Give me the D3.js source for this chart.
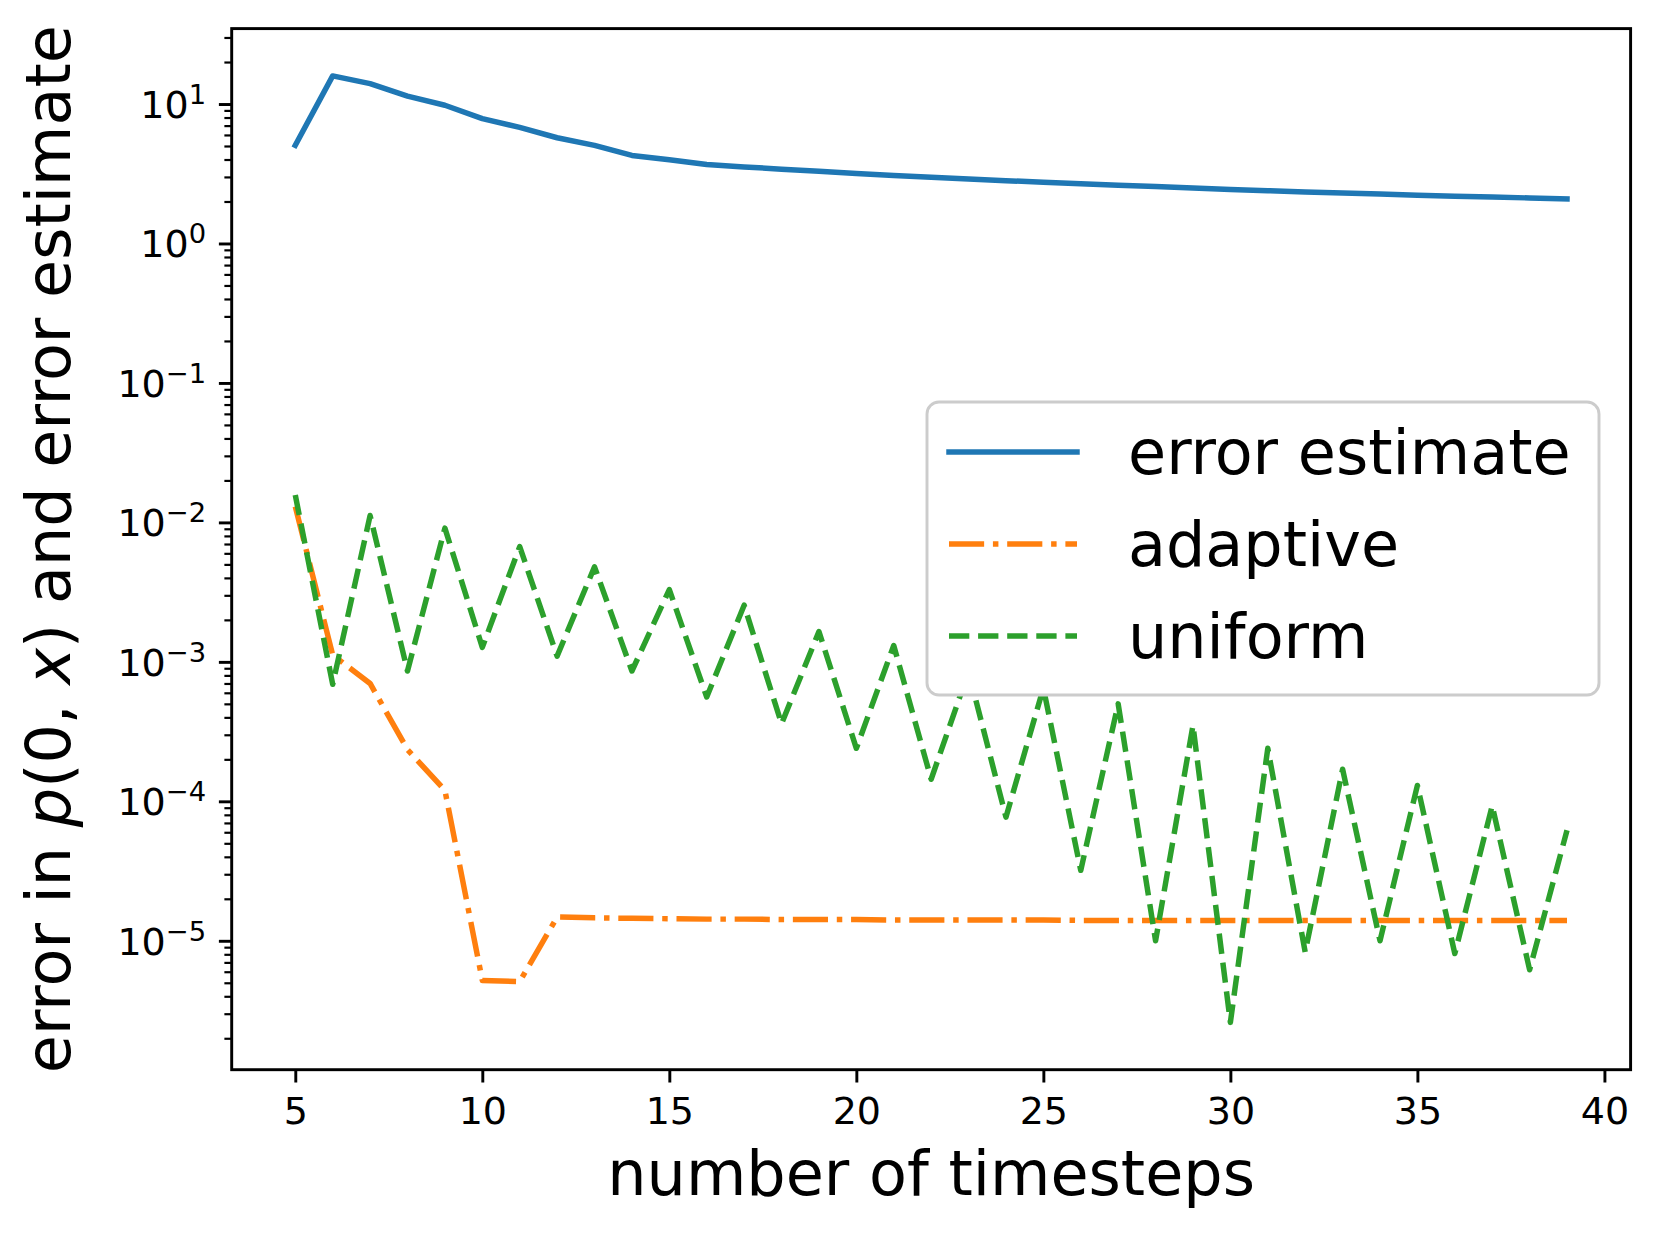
<!DOCTYPE html>
<html>
<head>
<meta charset="utf-8">
<script src="https://cdn.jsdelivr.net/npm/d3@7"></script>
<style>
  html, body { margin: 0; padding: 0; background: #ffffff; }
  svg { display: block; }
  text { font-family: "DejaVu Sans", sans-serif; fill: #000; }
</style>
</head>
<body>
<svg id="chart" width="1659" height="1240"></svg>
<script>
// ---------------- data ----------------
const timesteps = [5,6,7,8,9,10,11,12,13,14,15,16,17,18,19,20,21,22,23,24,25,26,27,28,29,30,31,32,33,34,35,36,37,38,39];

const errorEstimate = [5.05,15.9,14.0,11.4,9.8,7.85,6.8,5.73,5.05,4.28,3.98,3.68,3.54,3.41,3.29,3.18,3.07,2.98,2.90,2.82,2.75,2.68,2.62,2.56,2.50,2.44,2.39,2.34,2.30,2.26,2.22,2.18,2.15,2.12,2.09];

const adaptive = [1.3e-2,1.12e-3,7.0e-4,2.35e-4,1.2e-4,5.2e-6,5.1e-6,1.48e-5,1.46e-5,1.45e-5,1.44e-5,1.43e-5,1.43e-5,1.42e-5,1.42e-5,1.42e-5,1.41e-5,1.41e-5,1.41e-5,1.41e-5,1.41e-5,1.40e-5,1.40e-5,1.40e-5,1.40e-5,1.40e-5,1.40e-5,1.40e-5,1.40e-5,1.40e-5,1.40e-5,1.40e-5,1.40e-5,1.40e-5,1.40e-5];

const uniform = [1.57e-2,6.9e-4,1.12e-2,8.6e-4,9.1e-3,1.27e-3,6.7e-3,1.10e-3,4.8e-3,8.6e-4,3.3e-3,5.6e-4,2.55e-3,3.6e-4,1.65e-3,2.4e-4,1.31e-3,1.44e-4,8.5e-4,7.7e-5,6.5e-4,3.2e-5,5.0e-4,1.0e-5,3.5e-4,2.6e-6,2.4e-4,8.3e-6,1.7e-4,1.0e-5,1.3e-4,8.1e-6,9.3e-5,6.2e-6,6.2e-5];

const seriesNames = ["error estimate", "adaptive", "uniform"];
const xTickValues = [5,10,15,20,25,30,35,40];
const yTickExponents = [-5,-4,-3,-2,-1,0,1];
const xLabel = "number of timesteps";

// ---------------- layout ----------------
const W = 1659, H = 1240;
const plot = { left: 231.7, right: 1630.6, top: 28.6, bottom: 1069.7 };
const pt = 3.66;                       // px per point
const lw = 1.5 * pt;                   // data line width
const colors = ["#1f77b4", "#ff7f0e", "#2ca02c"];
const dashes = [null,
  [6.4*lw, 1.6*lw, 1*lw, 1.6*lw].join(","),
  [3.7*lw, 1.6*lw].join(",")];
const tickFont = 38, labelFont = 62;

const svg = d3.select("#chart");
svg.append("rect").attr("width", W).attr("height", H).attr("fill", "#fff");

// scales with matplotlib-like 5% margins
const xmin = d3.min(timesteps), xmax = d3.max(timesteps);
const xm = 0.05 * (xmax - xmin);
const x = d3.scaleLinear().domain([xmin - xm, xmax + xm]).range([plot.left, plot.right]);

const allY = errorEstimate.concat(adaptive, uniform);
const lmin = Math.log10(d3.min(allY)), lmax = Math.log10(d3.max(allY));
const lm = 0.05 * (lmax - lmin);
const y = d3.scaleLog().domain([Math.pow(10, lmin - lm), Math.pow(10, lmax + lm)]).range([plot.bottom, plot.top]);

// ---------------- data lines ----------------
const clipId = "plotclip";
svg.append("clipPath").attr("id", clipId).append("rect")
  .attr("x", plot.left).attr("y", plot.top)
  .attr("width", plot.right - plot.left).attr("height", plot.bottom - plot.top);

const line = d3.line().x(d => x(d[0])).y(d => y(d[1]));
const seriesData = [errorEstimate, adaptive, uniform];
const gLines = svg.append("g").attr("clip-path", `url(#${clipId})`);
seriesData.forEach((vals, i) => {
  const pts = timesteps.map((t, j) => [t, vals[j]]);
  const p = gLines.append("path")
    .attr("d", line(pts))
    .attr("fill", "none")
    .attr("stroke", colors[i])
    .attr("stroke-width", lw)
    .attr("stroke-linejoin", "round")
    .attr("stroke-linecap", i === 0 ? "square" : "butt");
  if (dashes[i]) p.attr("stroke-dasharray", dashes[i]);
});

// ---------------- axes ----------------
const majorLen = 3.5 * pt, minorLen = 2 * pt;
const majorW = 0.8 * pt, minorW = 0.6 * pt;

// x axis
const xAxis = d3.axisBottom(x).tickValues(xTickValues).tickSize(majorLen).tickPadding(3.5 * pt).tickFormat(d3.format("d"));
const gx = svg.append("g").attr("transform", `translate(0,${plot.bottom})`).call(xAxis);
gx.select(".domain").remove();
gx.selectAll(".tick line").attr("stroke", "#000").attr("stroke-width", majorW);
gx.selectAll(".tick text").attr("font-size", tickFont).attr("font-family", "DejaVu Sans").attr("fill", "#000").attr("dy", "0.76em");

// y axis major
const yAxis = d3.axisLeft(y).tickValues(yTickExponents.map(e => Math.pow(10, e))).tickSize(majorLen).tickFormat("");
const gy = svg.append("g").attr("transform", `translate(${plot.left},0)`).call(yAxis);
gy.select(".domain").remove();
gy.selectAll(".tick line").attr("stroke", "#000").attr("stroke-width", majorW);

// y tick labels (mathtext style 10^e)
yTickExponents.forEach(e => {
  const yy = y(Math.pow(10, e));
  const t = svg.append("text")
    .attr("x", plot.left - majorLen - 3.5 * pt)
    .attr("y", yy + 0.3645 * tickFont)
    .attr("text-anchor", "end")
    .attr("font-size", tickFont);
  t.append("tspan").text("10");
  t.append("tspan").attr("font-size", tickFont * 0.72).attr("dy", -0.37 * tickFont)
    .text(e < 0 ? "\u2212" + Math.abs(e) : String(e));
});

// y minor ticks
const [d0, d1] = y.domain();
const minorVals = [];
for (let e = Math.floor(Math.log10(d0)); e <= Math.ceil(Math.log10(d1)); e++) {
  for (let k = 2; k <= 9; k++) {
    const v = k * Math.pow(10, e);
    if (v >= d0 && v <= d1) minorVals.push(v);
  }
}
const yMinor = d3.axisLeft(y).tickValues(minorVals).tickSize(minorLen).tickFormat("");
const gym = svg.append("g").attr("transform", `translate(${plot.left},0)`).call(yMinor);
gym.select(".domain").remove();
gym.selectAll(".tick line").attr("stroke", "#000").attr("stroke-width", minorW);

// spines
svg.append("rect")
  .attr("x", plot.left).attr("y", plot.top)
  .attr("width", plot.right - plot.left).attr("height", plot.bottom - plot.top)
  .attr("fill", "none").attr("stroke", "#000").attr("stroke-width", majorW)
  .attr("stroke-linejoin", "miter");

// axis labels
svg.append("text")
  .attr("x", (plot.left + plot.right) / 2)
  .attr("y", 1195)
  .attr("text-anchor", "middle")
  .attr("font-size", labelFont)
  .text(xLabel);

const yl = svg.append("text")
  .attr("transform", `translate(70,${(plot.top + plot.bottom) / 2}) rotate(-90)`)
  .attr("text-anchor", "middle")
  .attr("font-size", labelFont);
yl.append("tspan").text("error in ");
yl.append("tspan").attr("font-style", "italic").text("p");
yl.append("tspan").text("(0, ");
yl.append("tspan").attr("font-style", "italic").text("x");
yl.append("tspan").text(") and error estimate");

// ---------------- legend ----------------
const leg = { x0: 927, y0: 402, x1: 1599, y1: 695 };
const lg = svg.append("g");
lg.append("rect")
  .attr("x", leg.x0).attr("y", leg.y0)
  .attr("width", leg.x1 - leg.x0).attr("height", leg.y1 - leg.y0)
  .attr("rx", 12).attr("ry", 12)
  .attr("fill", "#fff").attr("fill-opacity", 1)
  .attr("stroke", "#cccccc").attr("stroke-width", 1 * pt * 0.8);
const rowY = [452, 544, 636];
seriesNames.forEach((name, i) => {
  const l = lg.append("line")
    .attr("x1", 949).attr("x2", 1077)
    .attr("y1", rowY[i]).attr("y2", rowY[i])
    .attr("stroke", colors[i]).attr("stroke-width", lw)
    .attr("stroke-linecap", i === 0 ? "square" : "butt");
  if (dashes[i]) l.attr("stroke-dasharray", dashes[i]);
  lg.append("text")
    .attr("x", 1128).attr("y", rowY[i] + 0.36 * labelFont)
    .attr("font-size", labelFont)
    .text(name);
});
</script>
</body>
</html>
